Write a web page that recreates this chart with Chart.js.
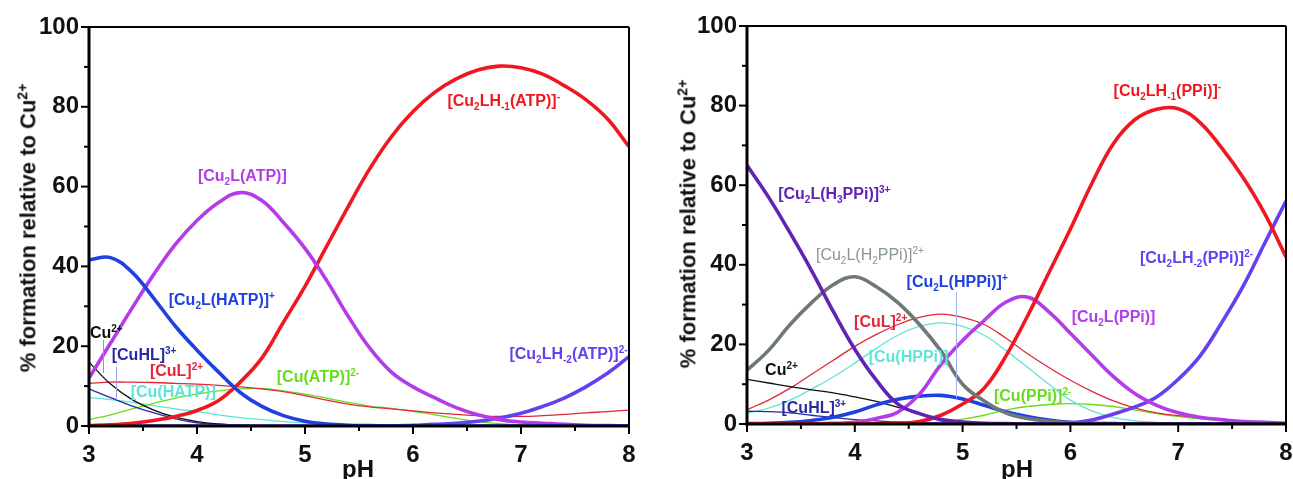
<!DOCTYPE html>
<html>
<head>
<meta charset="utf-8">
<script src="https://cdn.jsdelivr.net/npm/chart.js@4/dist/chart.umd.min.js"></script>
<style>
  html, body { margin: 0; padding: 0; background: #fff; }
  #wrap { position: relative; width: 1293px; height: 479px; overflow: hidden; font-family: "Liberation Sans", Arial, sans-serif; }
  #wrap canvas { position: absolute; top: 0; }
  .lbl { position: absolute; white-space: nowrap; font-weight: bold; font-size: 16px; line-height: 1; transform: translate(-50%, -50%); }
  .lbl sub, .lbl sup { font-size: 10px; line-height: 0; }
  .lbl.light { font-weight: normal; }
  .ytitle { position: absolute; white-space: nowrap; font-weight: bold; font-size: 22px; color: #111; transform: translate(-50%, -50%) rotate(-90deg); }
  .ytitle sup { font-size: 14px; }
  .xtitle { position: absolute; font-weight: bold; font-size: 24px; line-height: 1; color: #111; transform: translateX(-50%); }
</style>
</head>
<body>
<div id="wrap">
  <canvas id="atp-chart" width="654" height="479" style="left:0"></canvas>
  <canvas id="ppi-chart" width="666" height="479" style="left:645px"></canvas>
  <div class="ytitle" style="left:28px;top:228px">% formation relative to Cu<sup>2+</sup></div>
  <div class="ytitle" style="left:688px;top:224px">% formation relative to Cu<sup>2+</sup></div>
  <div class="xtitle" style="left:358px;top:457px">pH</div>
  <div class="xtitle" style="left:1017px;top:457px">pH</div>
</div>
<script>
// Cu2+ speciation vs pH, ATP (left) and PPi (right) systems

const pH = [3.0, 3.2, 3.4, 3.6, 3.8, 4.0, 4.2, 4.4, 4.6, 4.8, 5.0, 5.2, 5.4, 5.6, 5.8, 6.0, 6.2, 6.4, 6.6, 6.8, 7.0, 7.2, 7.4, 7.6, 7.8, 8.0];

// --- ATP system ---
const atpCu2LHATP = [41.6, 42.2, 38.5, 32, 25, 19, 13.5, 8.4, 4.9, 2.6, 1.2, 0.5, 0.2, 0.1, 0, 0, 0, 0, 0, 0, 0, 0, 0, 0, 0, 0];
const atpCu2L     = [12, 20.8, 29.6, 38, 45.5, 51.5, 56, 58.5, 56.5, 51, 44.5, 36.5, 27.5, 19.5, 13.5, 9.8, 7.1, 4.6, 2.8, 1.6, 1.0, 0.7, 0.4, 0.2, 0.1, 0];
const atpCu2LH1   = [0.1, 0.3, 0.7, 1.4, 2.4, 3.9, 6.4, 11, 17, 26, 35, 45, 55, 64.5, 72.5, 78.8, 83.6, 87, 89.2, 90.2, 89.8, 88.2, 85.3, 81.8, 77, 70];
const atpCu2LH2   = [0, 0, 0, 0, 0, 0, 0, 0, 0, 0, 0, 0, 0, 0, 0, 0.2, 0.4, 0.7, 1.2, 2, 3.2, 4.9, 7, 9.8, 13.2, 17.4];
const atpCu       = [16, 10.5, 6.6, 4, 2.2, 1.1, 0.5, 0.2, 0.1, 0, 0, 0, 0, 0, 0, 0, 0, 0, 0, 0, 0, 0, 0, 0, 0, 0];
const atpCuHL     = [9.3, 7.1, 5, 3.3, 1.8, 0.8, 0.4, 0.2, 0.1, 0, 0, 0, 0, 0, 0, 0, 0, 0, 0, 0, 0, 0, 0, 0, 0, 0];
const atpCuHATP   = [7.2, 6.6, 5.9, 5.1, 4.3, 3.6, 2.8, 2.1, 1.6, 1.1, 0.8, 0.5, 0.3, 0.2, 0.1, 0.05, 0, 0, 0, 0, 0, 0, 0, 0, 0, 0];
const atpCuATP    = [1.6, 2.8, 4.3, 5.7, 7, 8, 8.8, 9.3, 9.4, 8.8, 8, 7, 5.9, 5, 4.4, 3.7, 2.8, 1.9, 1.1, 0.6, 0.3, 0.15, 0.1, 0, 0, 0];
const atpCuL      = [10.7, 11, 11, 10.9, 10.7, 10.5, 10.2, 9.8, 9.3, 8.6, 7.6, 6.5, 5.5, 4.8, 4.3, 3.8, 3.3, 2.9, 2.6, 2.4, 2.4, 2.6, 2.9, 3.3, 3.6, 4];

// --- PPi system ---
const ppiCu2LH3   = [65, 57, 48, 38.5, 28.3, 18.8, 11, 5, 2.6, 1.1, 0.5, 0.2, 0.1, 0, 0, 0, 0, 0, 0, 0, 0, 0, 0, 0, 0, 0];
const ppiCu2LH2   = [13.5, 18.5, 25, 30.5, 35, 37, 34.5, 30.5, 25, 18.3, 10, 5.8, 2.8, 1.4, 0.7, 0.3, 0.1, 0, 0, 0, 0, 0, 0, 0, 0, 0];
const ppiCu2LHPPi = [0.1, 0.2, 0.4, 0.9, 1.7, 3, 4.8, 6.2, 7, 7.2, 6.3, 4.7, 3.1, 1.9, 1, 0.4, 0.2, 0.1, 0, 0, 0, 0, 0, 0, 0, 0];
const ppiCu2L     = [0, 0, 0, 0.05, 0.15, 0.4, 1.4, 3, 7.5, 15, 21, 26, 30.6, 31.9, 28.2, 22.8, 17.3, 11.9, 7.6, 4.7, 2.8, 1.7, 1.1, 0.6, 0.4, 0.2];
const ppiCu2LHm1  = [0, 0, 0, 0, 0, 0, 0.05, 0.15, 0.6, 2.2, 5, 9, 17, 27, 38, 49, 60.5, 70.5, 76.5, 79.1, 79.2, 75.8, 69.5, 62, 53, 42];
const ppiCu2LHm2  = [0, 0, 0, 0, 0, 0, 0, 0, 0, 0, 0, 0, 0, 0, 0.1, 0.3, 1, 2.5, 4.3, 6.8, 11.2, 17, 25.3, 34.5, 45.3, 56];
const ppiCu       = [11.2, 10.3, 9.4, 8.6, 7.8, 6.8, 5.7, 4.2, 2.5, 1.2, 0.6, 0.3, 0.1, 0, 0, 0, 0, 0, 0, 0, 0, 0, 0, 0, 0, 0];
const ppiCuHL     = [3.2, 3.1, 2.8, 2.2, 1.6, 1.1, 0.8, 0.5, 0.3, 0.2, 0.1, 0, 0, 0, 0, 0, 0, 0, 0, 0, 0, 0, 0, 0, 0, 0];
const ppiCuL      = [3.6, 6, 9, 12.5, 16, 19.5, 22.5, 25, 26.8, 27.6, 26.8, 25, 21.6, 17.7, 14.2, 11, 8.2, 5.8, 4, 2.8, 2.1, 1.6, 1.2, 0.8, 0.5, 0.3];
const ppiCuHPPi   = [2.7, 4, 6, 8.8, 11.8, 15.3, 19, 22.3, 24.5, 25.4, 24.5, 22.3, 18.5, 14.3, 10, 6, 3.3, 1.6, 0.8, 0.4, 0.2, 0.1, 0, 0, 0, 0];
const ppiCuPPi    = [0, 0, 0, 0, 0, 0, 0, 0, 0.1, 0.5, 1.2, 2.2, 3.5, 4.4, 4.9, 5.1, 4.9, 4.4, 3.5, 2.6, 1.9, 1.3, 0.9, 0.6, 0.4, 0.3];

const xTicks = [3, 4, 5, 6, 7, 8];
const yTicks = [0, 20, 40, 60, 80, 100];

const COL = {
  blue: '#2040e2', magenta: '#b43ce8', red: '#f01820', violet: '#6640ee',
  purple: '#6222b4', grey: '#6e7876', black: '#111111', navy: '#2a2aa2',
  redThin: '#e0283a', cyan: '#5ce6d6', green: '#66dd1c'
};

function series(values, color, thick) {
  return {
    data: pH.map((x, i) => ({ x, y: values[i] })),
    borderColor: color,
    borderWidth: thick ? 3.6 : 1.3,
    pointRadius: 0,
    fill: false,
    tension: 0.4
  };
}

// frame, ticks and leader lines
const framePlugin = {
  id: 'frame',
  afterDatasetsDraw(chart, args, opts) {
    const { ctx, chartArea: a, scales: { x, y } } = chart;
    const seg = (x1, y1, x2, y2) => { ctx.beginPath(); ctx.moveTo(x1, y1); ctx.lineTo(x2, y2); ctx.stroke(); };
    ctx.save();
    (opts.leaders || []).forEach(l => {
      ctx.strokeStyle = l.color;
      ctx.lineWidth = 1;
      const px = Math.round(x.getPixelForValue(l.x)) + 0.5;
      seg(px, y.getPixelForValue(l.y1), px, y.getPixelForValue(l.y2));
    });
    ctx.strokeStyle = '#000';
    ctx.lineWidth = 2;
    seg(a.left, a.top, a.right, a.top);
    seg(a.right, a.top, a.right, a.bottom);
    ctx.lineWidth = 3;
    seg(a.left, a.top - 1, a.left, a.bottom + 1.5);
    seg(a.left - 1.5, a.bottom, a.right + 1, a.bottom);
    ctx.lineWidth = 2;
    for (let k = 0; k <= 10; k++) {
      const px = x.getPixelForValue(3 + k * 0.5);
      seg(px, a.bottom, px, a.bottom + (k % 2 ? 5 : 8));
    }
    for (let k = 0; k <= 10; k++) {
      const py = y.getPixelForValue(k * 10);
      seg(a.left, py, a.left - (k % 2 ? 5 : 8), py);
    }
    ctx.restore();
  }
};

function makeChart(id, datasets, box, leaders) {
  const tickFont = { family: '"Liberation Sans", Arial, sans-serif', weight: 'bold', size: 24 };
  return new Chart(document.getElementById(id), {
    type: 'line',
    data: { datasets },
    plugins: [framePlugin],
    options: {
      responsive: false,
      animation: false,
      events: [],
      layout: { padding: { left: 0, top: box.top, right: 25, bottom: 0 } },
      plugins: { legend: { display: false }, tooltip: { enabled: false }, frame: { leaders } },
      scales: {
        x: {
          type: 'linear', min: 3, max: 8,
          grid: { display: false, drawTicks: false },
          border: { display: false },
          afterBuildTicks: s => { s.ticks = xTicks.map(v => ({ value: v })); },
          afterFit: s => { s.height = box.xh; },
          ticks: { font: tickFont, color: '#111', padding: 15, autoSkip: false, maxRotation: 0 }
        },
        y: {
          min: 0, max: 100,
          grid: { display: false, drawTicks: false },
          border: { display: false },
          afterBuildTicks: s => { s.ticks = yTicks.map(v => ({ value: v })); },
          afterFit: s => { s.width = box.yw; },
          ticks: { font: tickFont, color: '#111', padding: 10 }
        }
      }
    }
  });
}

const atpChart = makeChart('atp-chart', [
  series(atpCu2LHATP, COL.blue, true),
  series(atpCu2L, COL.magenta, true),
  series(atpCu2LH1, COL.red, true),
  series(atpCu2LH2, COL.violet, true),
  series(atpCu, COL.black, false),
  series(atpCuHL, COL.navy, false),
  series(atpCuL, COL.redThin, false),
  series(atpCuATP, COL.green, false),
  series(atpCuHATP, COL.cyan, false)
], { top: 27, xh: 53, yw: 89 }, [
  { x: 3.13, y1: 21.6, y2: 13.3, color: '#8f9aa8' },
  { x: 3.25, y1: 14.8, y2: 6.5, color: '#9aa4d8' }
]);

const ppiChart = makeChart('ppi-chart', [
  series(ppiCu2LH3, COL.purple, true),
  series(ppiCu2LH2, COL.grey, true),
  series(ppiCu2LHm1, COL.red, true),
  series(ppiCu2L, COL.magenta, true),
  series(ppiCu2LHm2, COL.violet, true),
  series(ppiCu2LHPPi, COL.blue, true),
  series(ppiCu, COL.black, false),
  series(ppiCuHL, COL.navy, false),
  series(ppiCuL, COL.redThin, false),
  series(ppiCuHPPi, COL.cyan, false),
  series(ppiCuPPi, COL.green, false)
], { top: 26, xh: 55, yw: 102 }, [
  { x: 4.94, y1: 33.2, y2: 6.5, color: '#a4b0ee' }
]);

// species labels, anchored in data coordinates (label centre)
const atpLabels = [
  [4.42, 62.7, '[Cu<sub>2</sub>L(ATP)]', COL.magenta],
  [6.84, 81.4, '[Cu<sub>2</sub>LH<sub>-1</sub>(ATP)]<sup>-</sup>', COL.red],
  [4.23, 31.6, '[Cu<sub>2</sub>L(HATP)]<sup>+</sup>', COL.blue],
  [7.44, 18, '[Cu<sub>2</sub>LH<sub>-2</sub>(ATP)]<sup>2-</sup>', COL.violet],
  [5.12, 12.3, '[Cu(ATP)]<sup>2-</sup>', COL.green],
  [3.16, 23.3, 'Cu<sup>2+</sup>', COL.black],
  [3.51, 17.8, '[CuHL]<sup>3+</sup>', COL.navy],
  [3.81, 13.8, '[CuL]<sup>2+</sup>', COL.redThin],
  [3.78, 8.5, '[Cu(HATP)]', COL.cyan]
];
const ppiLabels = [
  [3.81, 57.8, '[Cu<sub>2</sub>L(H<sub>3</sub>PPi)]<sup>3+</sup>', COL.purple],
  [4.14, 42.5, '[Cu<sub>2</sub>L(H<sub>2</sub>PPi)]<sup>2+</sup>', '#8a9692', 'light'],
  [4.95, 35.7, '[Cu<sub>2</sub>L(HPPi)]<sup>+</sup>', COL.blue],
  [4.24, 25.6, '[CuL]<sup>2+</sup>', COL.redThin],
  [4.5, 16.8, '[Cu(HPPi)]', COL.cyan],
  [3.32, 13.6, 'Cu<sup>2+</sup>', COL.black],
  [3.62, 4, '[CuHL]<sup>3+</sup>', COL.navy],
  [5.65, 7, '[Cu(PPi)]<sup>2-</sup>', COL.green],
  [6.9, 83.7, '[Cu<sub>2</sub>LH<sub>-1</sub>(PPi)]<sup>-</sup>', COL.red],
  [6.4, 26.9, '[Cu<sub>2</sub>L(PPi)]', COL.magenta],
  [7.17, 41.7, '[Cu<sub>2</sub>LH<sub>-2</sub>(PPi)]<sup>2-</sup>', COL.violet]
];

function placeLabels(chart, offsetX, labels) {
  const wrap = document.getElementById('wrap');
  labels.forEach(([x, y, html, color, cls]) => {
    const d = document.createElement('div');
    d.className = 'lbl' + (cls ? ' ' + cls : '');
    d.innerHTML = html;
    d.style.color = color;
    d.style.left = (offsetX + chart.scales.x.getPixelForValue(x)) + 'px';
    d.style.top = chart.scales.y.getPixelForValue(y) + 'px';
    wrap.appendChild(d);
  });
}
placeLabels(atpChart, 0, atpLabels);
placeLabels(ppiChart, 645, ppiLabels);
</script>
</body>
</html>
